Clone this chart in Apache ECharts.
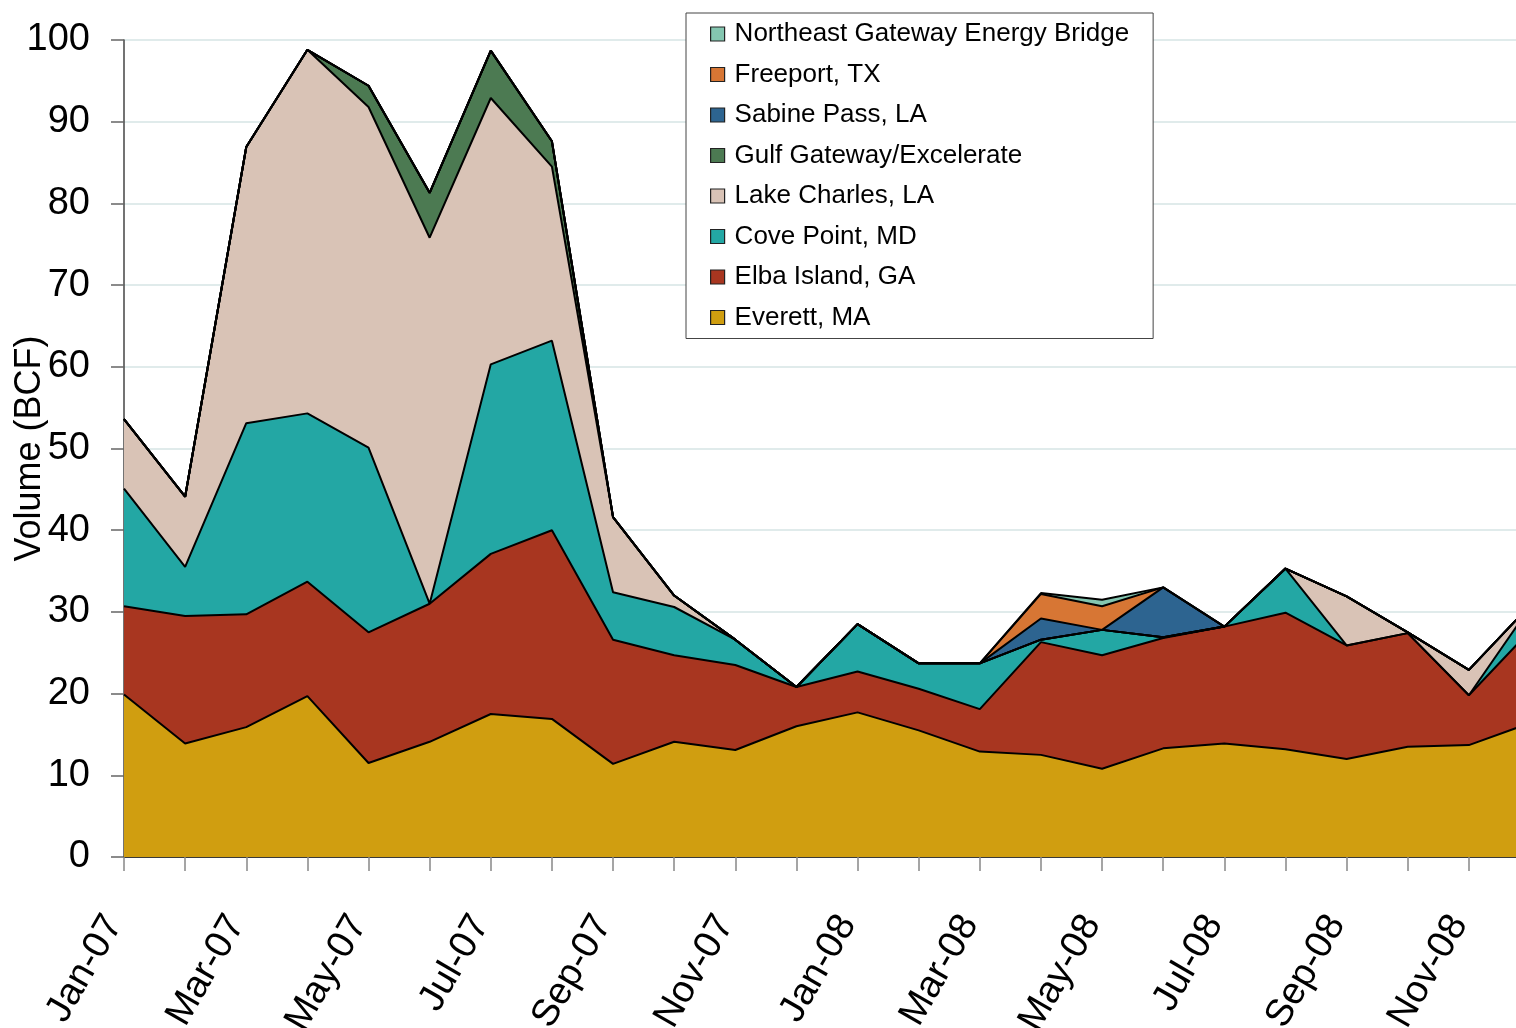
<!DOCTYPE html>
<html>
<head>
<meta charset="utf-8">
<script src="https://cdn.jsdelivr.net/npm/echarts@6/dist/echarts.min.js"></script>
<style>
  html, body { margin: 0; padding: 0; background: #fff; }
  #main { width: 1516px; height: 1028px; }
</style>
</head>
<body>
<div id="main"></div>
<script>
var months = ['Jan-07', 'Feb-07', 'Mar-07', 'Apr-07', 'May-07', 'Jun-07', 'Jul-07', 'Aug-07', 'Sep-07', 'Oct-07', 'Nov-07', 'Dec-07',
              'Jan-08', 'Feb-08', 'Mar-08', 'Apr-08', 'May-08', 'Jun-08', 'Jul-08', 'Aug-08', 'Sep-08', 'Oct-08', 'Nov-08', 'Dec-08'];

// monthly volumes, BCF
var everett     = [19.9, 13.9, 15.9, 19.7, 11.5, 14.1, 17.5, 16.9, 11.4, 14.1, 13.1, 16.0, 17.7, 15.5, 12.9, 12.5, 10.8, 13.3, 13.9, 13.2, 12.0, 13.5, 13.7, 16.4];
var elba        = [10.8, 15.6, 13.8, 14.0, 16.0, 16.9, 19.6, 23.1, 15.2, 10.6, 10.4, 4.8, 5.0, 5.1, 5.2, 13.8, 13.9, 13.5, 14.3, 16.7, 13.9, 13.9, 6.1, 11.3];
var covePoint   = [14.4, 6.0, 23.4, 20.6, 22.6, 0, 23.2, 23.2, 5.8, 5.9, 3.1, 0, 5.8, 3.1, 5.6, 0.3, 3.1, 0.1, 0, 5.4, 0, 0, 0, 2.9];
var lakeCharles = [8.5, 8.6, 33.8, 44.5, 41.7, 44.8, 32.6, 21.3, 9.2, 1.4, 0, 0, 0, 0, 0, 0, 0, 0, 0, 0, 6.0, 0.1, 3.1, 0.2];
var gulfGateway = [0, 0, 0, 0, 2.6, 5.5, 5.8, 3.1, 0, 0, 0, 0, 0, 0, 0, 0, 0, 0, 0, 0, 0, 0, 0, 0];
var sabinePass  = [0, 0, 0, 0, 0, 0, 0, 0, 0, 0, 0, 0, 0, 0, 0, 2.6, 0, 6.1, 0, 0, 0, 0, 0, 0];
var freeport    = [0, 0, 0, 0, 0, 0, 0, 0, 0, 0, 0, 0, 0, 0, 0, 3.0, 2.9, 0, 0, 0, 0, 0, 0, 0];
var northeast   = [0, 0, 0, 0, 0, 0, 0, 0, 0, 0, 0, 0, 0, 0, 0, 0.1, 0.8, 0, 0, 0, 0, 0, 0, 0];

var seriesNames = ['Everett, MA', 'Elba Island, GA', 'Cove Point, MD', 'Lake Charles, LA',
                   'Gulf Gateway/Excelerate', 'Sabine Pass, LA', 'Freeport, TX', 'Northeast Gateway Energy Bridge'];
var seriesData = [everett, elba, covePoint, lakeCharles, gulfGateway, sabinePass, freeport, northeast];
var seriesColors = ['#D09E10', '#A83620', '#23A7A4', '#D9C3B6', '#4C7A52', '#2D6490', '#D77634', '#84C6B0'];

var font = 'Liberation Sans, Arial, sans-serif';

var chartDom = document.getElementById('main');
var myChart = echarts.init(chartDom);
var option;

option = {
    animation: false,
    grid: {
        left: 124,
        right: -14,
        top: 40,
        bottom: 171,
        outerBoundsMode: 'none'
    },
    legend: {
        data: seriesNames.slice().reverse(),
        orient: 'vertical',
        left: 686,
        top: 13,
        backgroundColor: '#fff',
        borderColor: '#444',
        borderWidth: 1,
        borderRadius: 0,
        padding: [8, 24, 8, 24],
        icon: 'rect',
        itemWidth: 14,
        itemHeight: 14,
        itemGap: 14.5,
        itemStyle: {
            borderColor: '#222',
            borderWidth: 1.2
        },
        textStyle: {
            fontFamily: font,
            fontSize: 26,
            color: '#000',
            padding: [0, 0, 0, 5]
        }
    },
    xAxis: {
        type: 'category',
        boundaryGap: false,
        data: months,
        axisLine: { lineStyle: { color: '#000', width: 1.5 } },
        axisTick: { interval: 0, length: 14, lineStyle: { color: '#888', width: 1.5 } },
        axisLabel: {
            interval: 1,
            rotate: 60,
            margin: 44,
            padding: [0, 20, 0, 0],
            fontFamily: font,
            fontSize: 38,
            color: '#000'
        },
        splitLine: { show: false }
    },
    yAxis: {
        type: 'value',
        min: 0,
        max: 100,
        interval: 10,
        name: 'Volume (BCF)',
        nameLocation: 'middle',
        nameRotate: 90,
        nameGap: 76,
        nameMoveOverlap: false,
        nameTextStyle: { fontFamily: font, fontSize: 36, color: '#000' },
        axisLine: { show: true, lineStyle: { color: '#444', width: 1.5 } },
        axisTick: { show: true, length: 13, lineStyle: { color: '#666', width: 1.5 } },
        axisLabel: { margin: 34, fontFamily: font, fontSize: 38, color: '#000' },
        splitLine: { lineStyle: { color: '#D6E4E4', width: 1.5 } }
    },
    series: seriesNames.map(function (name, i) {
        return {
            name: name,
            type: 'line',
            stack: 'volume',
            symbol: 'none',
            data: seriesData[i],
            itemStyle: { color: seriesColors[i] },
            lineStyle: { color: '#000', width: 2 },
            areaStyle: { color: seriesColors[i], opacity: 1 }
        };
    })
};

option && myChart.setOption(option);
</script>
</body>
</html>
